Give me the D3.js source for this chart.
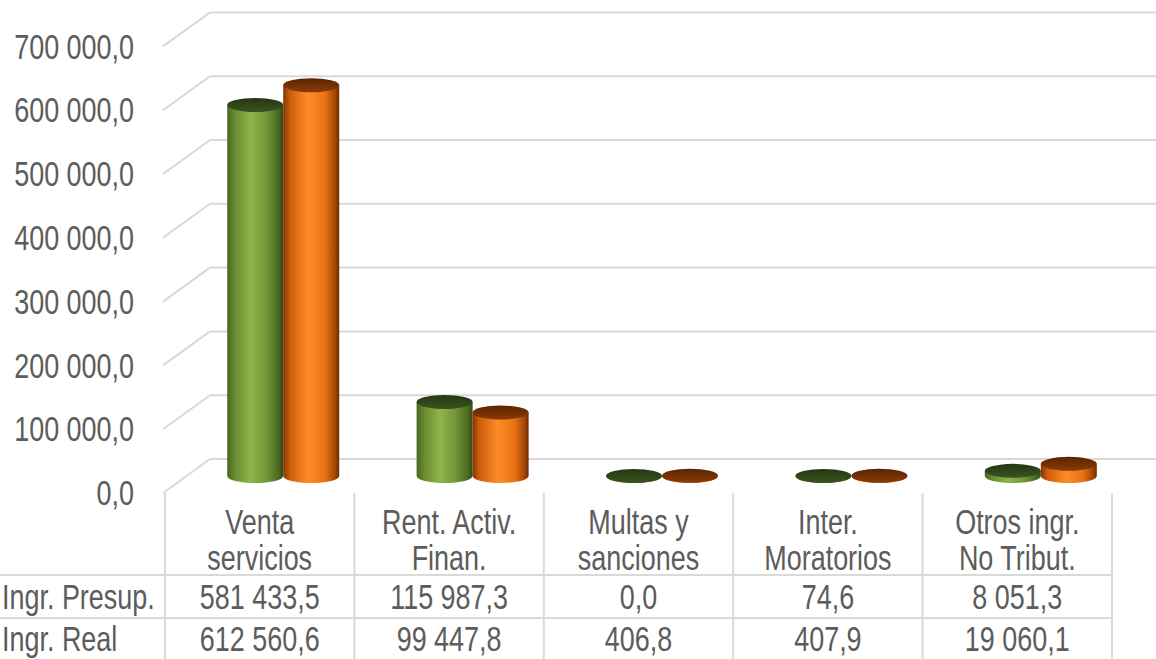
<!DOCTYPE html>
<html>
<head>
<meta charset="utf-8">
<script src="https://cdn.jsdelivr.net/npm/d3@7"></script>
<style>
  body { margin: 0; background: #fff; }
  text { font-family: "Liberation Sans", Arial, sans-serif; fill: #5c5c5c; font-size: 35px; }
</style>
</head>
<body>
<svg width="1156" height="659"></svg>
<script>
// data
const categories = [["Venta", "servicios"], ["Rent. Activ.", "Finan."], ["Multas y", "sanciones"], ["Inter.", "Moratorios"], ["Otros ingr.", "No Tribut."]];
const seriesNames = ["Ingr. Presup.", "Ingr. Real"];
const presup = [581433.5, 115987.3, 0.0, 74.6, 8051.3];
const real = [612560.6, 99447.8, 406.8, 407.9, 19060.1];
const yTicks = [0, 100000, 200000, 300000, 400000, 500000, 600000, 700000];

var svg = d3.select("svg"),
  width = +svg.attr("width"),
  height = +svg.attr("height");

const fmt = d3.formatLocale({decimal: ",", thousands: " ", grouping: [3], currency: ["", ""]}).format(",.1f");

// narrow text: Arial squeezed horizontally (no Arial Narrow installed)
const addText = (g, px, py, str, anchor) =>
  g.append("text")
    .attr("transform", `translate(${px},${py}) scale(0.77,1)`)
    .attr("dy", "0.35em")
    .attr("text-anchor", anchor || "start")
    .text(str);

// back wall scale, depth offset front -> back
const DX = 47, DY = -34;
var y = d3.scaleLinear().domain([0, 700000]).range([459, 12.4]);
var x = d3.scaleBand().domain(d3.range(categories.length)).range([165, 1112]);

const defs = svg.append("defs");
function sideGrad(id, stops) {
  const g = defs.append("linearGradient").attr("id", id).attr("x1", 0).attr("x2", 1).attr("y1", 0).attr("y2", 0);
  stops.forEach(s => g.append("stop").attr("offset", s[0]).attr("stop-color", s[1]));
}
function topGrad(id, stops) {
  const g = defs.append("linearGradient").attr("id", id).attr("x1", 0).attr("x2", 0).attr("y1", 0).attr("y2", 1);
  stops.forEach(s => g.append("stop").attr("offset", s[0]).attr("stop-color", s[1]));
}
sideGrad("gSide", [[0, "#4a6620"], [0.15, "#6b8f32"], [0.42, "#90b54b"], [0.7, "#719636"], [0.92, "#4a681f"], [1, "#324619"]]);
sideGrad("oSide", [[0, "#843604"], [0.12, "#cc5e0c"], [0.45, "#ff8c28"], [0.75, "#e87214"], [0.93, "#a24504"], [1, "#6a2a00"]]);
topGrad("gTop", [[0, "#253612"], [1, "#3a5420"]]);
topGrad("oTop", [[0, "#5c2400"], [1, "#8a3c06"]]);

// left wall diagonals + back wall gridlines
const grid = svg.append("g").attr("stroke", "#d9d9d9").attr("stroke-width", 2).attr("fill", "none");
yTicks.forEach(v => {
  grid.append("line").attr("x1", 165 - DX + 45).attr("y1", y(v) - DY).attr("x2", 165 + DX - 2).attr("y2", y(v));
  grid.append("line").attr("x1", 165 + DX - 2).attr("y1", y(v)).attr("x2", width).attr("y2", y(v));
});

// y axis labels on the front edge
const yAxis = svg.append("g");
yTicks.forEach(d => addText(yAxis, 134, y(d) - DY, fmt(d), "end"));

// cylinders
const rx = 28, ry = 7;
const series = [{vals: presup, side: "url(#gSide)", top: "url(#gTop)", off: -rx},
                {vals: real, side: "url(#oSide)", top: "url(#oTop)", off: rx}];
const bars = svg.append("g");
categories.forEach((c, i) => {
  series.forEach(s => {
    const cx = x(i) + x.bandwidth() / 2 + DX / 2 + s.off;
    const yb = y(0) - DY / 2;
    const yt = y(s.vals[i]) - DY / 2;
    bars.append("path")
      .attr("d", `M${cx - rx},${yt} L${cx - rx},${yb} A${rx},${ry} 0 0 0 ${cx + rx},${yb} L${cx + rx},${yt} Z`)
      .attr("fill", s.side);
    bars.append("ellipse")
      .attr("cx", cx).attr("cy", yt).attr("rx", rx).attr("ry", ry)
      .attr("fill", s.top);
  });
});

// data table
const tbl = svg.append("g");
const lineColor = "#d9d9d9";
x.domain().concat([categories.length]).forEach(i => {
  const xx = i < categories.length ? x(i) : x.range()[1];
  tbl.append("line").attr("x1", xx).attr("x2", xx).attr("y1", 493).attr("y2", height)
    .attr("stroke", lineColor).attr("stroke-width", 2);
});
[575, 618].forEach(yy => {
  tbl.append("line").attr("x1", 0).attr("x2", x.range()[1]).attr("y1", yy).attr("y2", yy)
    .attr("stroke", lineColor).attr("stroke-width", 2);
});
categories.forEach((c, i) => {
  c.forEach((ln, k) => addText(tbl, x(i) + x.bandwidth() / 2, 522 + k * 36, ln, "middle"));
});
[presup, real].forEach((vals, r) => {
  const yy = 597 + r * 42;
  addText(tbl, 2, yy, seriesNames[r]);
  vals.forEach((v, i) => addText(tbl, x(i) + x.bandwidth() / 2, yy, fmt(v), "middle"));
});
</script>
</body>
</html>
